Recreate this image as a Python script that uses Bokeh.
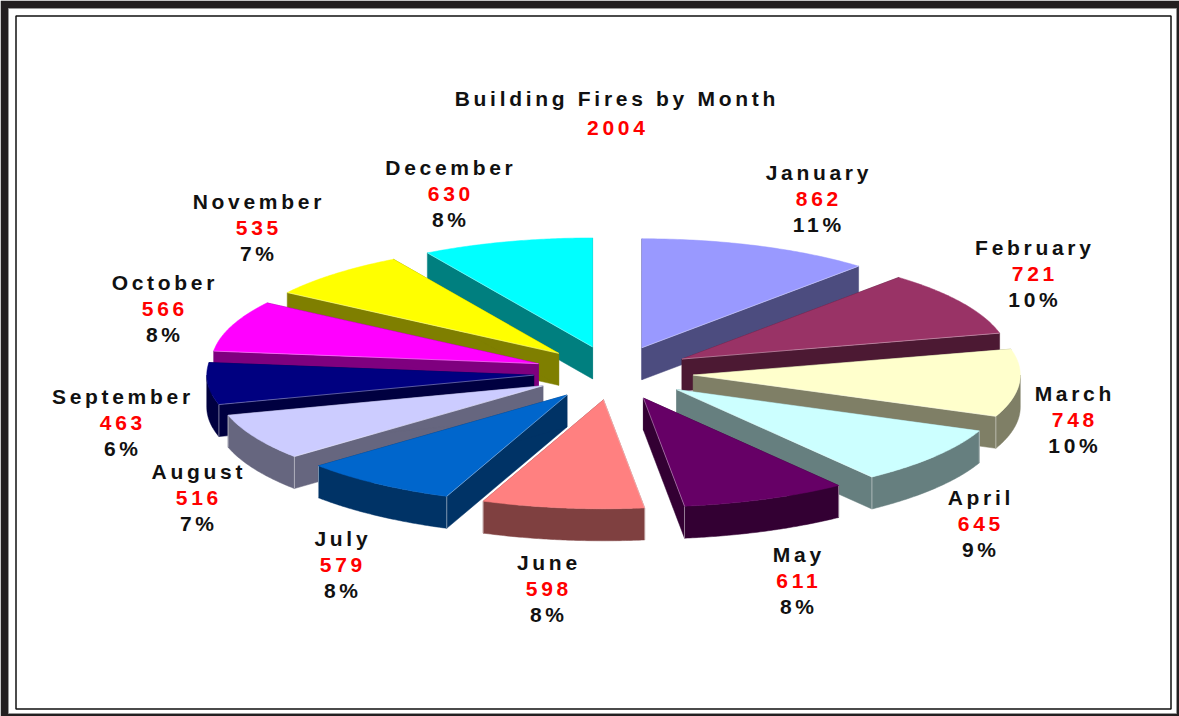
import math
from bokeh.plotting import figure
from bokeh.models import Range1d
from bokeh.embed import file_html
from bokeh.resources import INLINE
from bokeh.core.properties import value

months = ["January", "February", "March", "April", "May", "June", "July",
          "August", "September", "October", "November", "December"]
fires = [862, 721, 748, 645, 611, 598, 579, 516, 463, 566, 535, 630]
percents = ["11%", "10%", "10%", "9%", "8%", "8%", "8%", "7%", "6%", "8%", "7%", "8%"]
colors = ["#9999FF", "#993366", "#FFFFCC", "#CCFFFF", "#660066", "#FF8080",
          "#0066CC", "#CCCCFF", "#000080", "#FF00FF", "#FFFF00", "#00FFFF"]
title_text = "Building Fires by Month"
year_text = "2004"

# layout
W, H = 1179, 716
CX, CY, RX, RY = 613, 372.5, 327, 109
EX, EY = 80, 27
DEPTH = 32
LS = 3.7          # letter spacing, px
FS = 21
label_x = [818, 1034, 1074, 980, 798, 548, 342, 198, 122, 164, 258, 450]
label_y = [172, 247, 393, 497, 554, 562, 538, 471, 396, 282, 201, 167]
LINE = 26


def darker(c):
    r, g, b = (int(c[i:i + 2], 16) for i in (1, 3, 5))
    return "#%02X%02X%02X" % (r // 2, g // 2, b // 2)


p = figure(width=W, height=H, output_backend="svg", toolbar_location=None,
           x_range=Range1d(0, W), y_range=Range1d(H, 0), min_border=0,
           x_axis_location=None, y_axis_location=None,
           outline_line_color=None, background_fill_color="white",
           border_fill_color="white")
p.grid.visible = False
p.styles = {"letter-spacing": f"{LS}px"}

# frame
p.quad(left=[0], right=[W], top=[0], bottom=[H], fill_color="#231F20", line_color=None)
p.quad(left=[8], right=[1176], top=[8], bottom=[713], fill_color="white",
       line_color="#999999", line_width=1)
p.quad(left=[15.5], right=[1170.5], top=[15.5], bottom=[708.5], fill_color=None,
       line_color="#111111", line_width=1.5)

# pie geometry from the values
total = sum(fires)
slices = []
cum = 0
for i, v in enumerate(fires):
    a0 = cum / total * 2 * math.pi
    cum += v
    a1 = cum / total * 2 * math.pi
    mid = (a0 + a1) / 2
    ax = CX + EX * math.sin(mid)
    ay = CY - EY * math.cos(mid)
    slices.append((ay, i, a0, a1, ax, mid))


def rim(ax, ay, t):
    return ax + RX * math.sin(t), ay - RY * math.cos(t)


for ay, i, a0, a1, ax, mid in sorted(slices):
    top = colors[i]
    wall = darker(top)
    n = 60
    arc = [rim(ax, ay, a0 + (a1 - a0) * k / n) for k in range(n + 1)]
    # radial walls
    for px, py in (arc[0], arc[-1]):
        p.patch([ax, px, px, ax], [ay, py, py + DEPTH, ay + DEPTH],
                fill_color=wall, line_color=wall, line_width=0.5)
    # outer wall, front half only
    f0, f1 = max(a0, math.pi / 2), min(a1, 3 * math.pi / 2)
    if f1 > f0:
        front = [rim(ax, ay, f0 + (f1 - f0) * k / n) for k in range(n + 1)]
        xs = [q[0] for q in front]
        ys = [q[1] for q in front]
        p.patch(xs + xs[::-1], ys + [y + DEPTH for y in ys[::-1]],
                fill_color=wall, line_color=wall, line_width=0.5)
        for t in (a0, a1):
            if f0 <= t <= f1:
                tx, ty = rim(ax, ay, t)
                p.line([tx, tx], [ty, ty + DEPTH], line_color="white",
                       line_alpha=0.45, line_width=1)
    # top face
    xs = [ax] + [q[0] for q in arc]
    ys = [ay] + [q[1] for q in arc]
    p.patch(xs, ys, fill_color=top, line_color=top, line_width=0.5)
    # light edge over the visible radial wall
    t = a1 if mid < math.pi else a0
    tx, ty = rim(ax, ay, t)
    p.line([ax, tx], [ay, ty], line_color="white", line_alpha=0.35, line_width=1)


def label(x, y, txt, color):
    off = -(len(txt) - 1) * LS / 2 - 1.5
    p.text(x=[x], y=[y], text=[txt], x_offset=off, text_color=color,
           text_font=value("Liberation Sans"), text_font_style="bold",
           text_font_size=f"{FS}px", text_align="center", text_baseline="middle")


label(616, 98, title_text, "#111111")
label(617, 127, year_text, "#FF0000")
for i, m in enumerate(months):
    label(label_x[i], label_y[i], m, "#111111")
    label(label_x[i], label_y[i] + LINE, str(fires[i]), "#FF0000")
    label(label_x[i], label_y[i] + 2 * LINE, percents[i], "#111111")

open("out.html", "w").write(file_html(p, INLINE))
